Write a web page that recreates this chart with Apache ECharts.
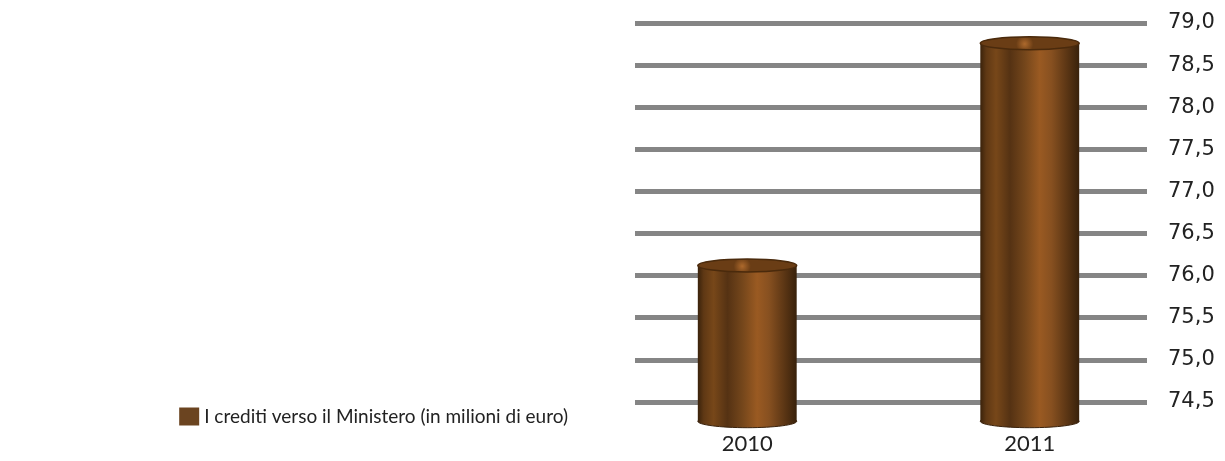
<!DOCTYPE html>
<html>
<head>
<meta charset="utf-8">
<title>I crediti verso il Ministero</title>
<script src="https://cdn.jsdelivr.net/npm/echarts@6/dist/echarts.min.js"></script>
<style>
  html, body { margin: 0; padding: 0; background: #ffffff; }
  #chart { width: 1225px; height: 461px; }
</style>
</head>
<body>
<div id="chart"></div>
<script>
// Credits towards the Ministry, in millions of euro
const categories = ['2010', '2011'];
const values = [76.12, 78.76];
const seriesName = 'I crediti verso il Ministero (in milioni di euro)';

// Value axis range and step
const axisMin = 74.0;
const axisMax = 79.0;
const axisStep = 0.5;
// Value at which the cylinders stand
const baseValue = 74.27;

const chart = echarts.init(document.getElementById('chart'), null, { renderer: 'canvas' });

// Horizontal shading that gives the bars their cylindrical look
function bodyFill() {
  return new echarts.graphic.LinearGradient(0, 0, 1, 0, [
    { offset: 0.00, color: '#3a220b' },
    { offset: 0.06, color: '#5f3814' },
    { offset: 0.16, color: '#774719' },
    { offset: 0.30, color: '#553213' },
    { offset: 0.45, color: '#74461b' },
    { offset: 0.60, color: '#9a5a22' },
    { offset: 0.72, color: '#875020' },
    { offset: 0.88, color: '#5a3514' },
    { offset: 1.00, color: '#38210b' }
  ]);
}

function topFill() {
  return new echarts.graphic.RadialGradient(0.45, 0.55, 0.6, [
    { offset: 0, color: '#ad692c' },
    { offset: 1, color: '#6a3d15' }
  ]);
}

function renderCylinder(params, api) {
  const cat = api.value(0);
  const val = api.value(1);
  const top = api.coord([cat, val]);
  const bottom = api.coord([cat, baseValue]);
  const band = api.size([1, 0])[0];
  const w = band * 0.35;
  const rx = w / 2;
  const ry = w * 0.065;
  return {
    type: 'group',
    children: [
      {
        type: 'ellipse',
        shape: { cx: top[0], cy: bottom[1], rx: rx, ry: ry },
        style: { fill: bodyFill(), stroke: '#3a220c', lineWidth: 1 }
      },
      {
        type: 'rect',
        shape: { x: top[0] - rx, y: top[1], width: w, height: bottom[1] - top[1] },
        style: { fill: bodyFill() }
      },
      {
        type: 'ellipse',
        shape: { cx: top[0], cy: top[1], rx: rx, ry: ry },
        style: { fill: topFill(), stroke: '#4a2a0c', lineWidth: 1.5 }
      }
    ]
  };
}

const option = {
  backgroundColor: '#ffffff',
  animation: false,
  legend: {
    data: [{ name: seriesName, icon: 'rect' }],
    right: 652,
    top: 402,
    itemWidth: 20,
    itemHeight: 18,
    itemGap: 12,
    textStyle: { fontFamily: 'Lato', fontSize: 19, color: '#222222' }
  },
  grid: [
    { left: 635, right: 78, top: 23, bottom: 17 },
    { left: 606, right: 54, top: 23, bottom: 17 }
  ],
  xAxis: [
    { gridIndex: 0, type: 'category', data: categories, show: false },
    {
      gridIndex: 1,
      type: 'category',
      data: categories,
      offset: -11,
      axisLine: { show: false },
      axisTick: { show: false },
      axisLabel: { margin: 0, fontFamily: 'Lato', fontSize: 22, color: '#222222' }
    }
  ],
  yAxis: [
    {
      gridIndex: 0,
      type: 'value',
      position: 'right',
      min: axisMin,
      max: axisMax,
      interval: axisStep,
      axisLine: { show: false },
      axisTick: { show: false },
      axisLabel: {
        margin: 21,
        fontFamily: 'DejaVu Sans',
        fontSize: 21,
        color: '#222222',
        formatter: function (v) {
          return v === axisMin ? '' : v.toFixed(1).replace('.', ',');
        }
      },
      splitLine: {
        show: true,
        showMinLine: false,
        lineStyle: { color: '#858585', width: 5 }
      }
    },
    {
      gridIndex: 1,
      type: 'value',
      min: axisMin,
      max: axisMax,
      interval: axisStep,
      show: false,
      splitLine: { show: false }
    }
  ],
  series: [
    {
      name: seriesName,
      type: 'custom',
      xAxisIndex: 1,
      yAxisIndex: 1,
      itemStyle: { color: '#6b4420' },
      encode: { x: 0, y: 1 },
      data: values.map(function (v, i) { return [i, v]; }),
      renderItem: renderCylinder
    }
  ]
};

chart.setOption(option);
</script>
</body>
</html>
